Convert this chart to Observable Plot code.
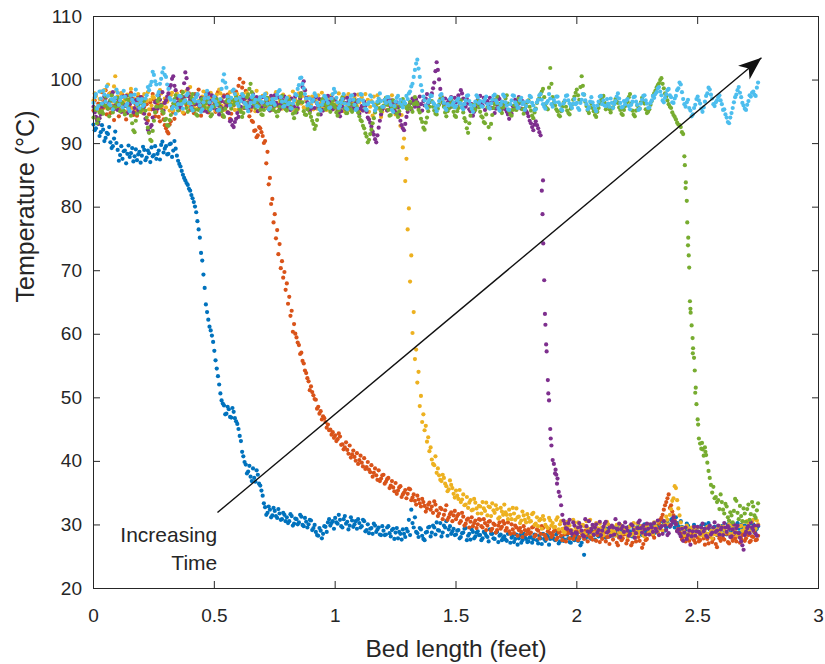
<!DOCTYPE html>
<html>
<head>
<meta charset="utf-8">
<script src="https://cdn.jsdelivr.net/npm/d3@7"></script>
<script src="https://cdn.jsdelivr.net/npm/@observablehq/plot@0.6"></script>
<style>
  html, body { margin: 0; padding: 0; background: #fff; }
  #chart svg { display: block; }
</style>
</head>
<body>
<div id="chart"></div>
<script>
// ---------- DATA ----------
// Readings "A" at 0.00, 0.01, ... 2.75 ft; readings "B" at 0.005, 0.015, ... 2.745 ft
const sampleStep = 0.01;
const offsetB = 0.005;

// Series 1 (earliest time)
const temps1 = [
  93.0, 92.4, 93.5, 91.8, 92.2, 90.9, 91.5, 90.2, 89.6, 91.9,
  89.0, 88.2, 87.6, 88.9, 88.4, 87.9, 89.3, 88.0, 87.4, 88.7,
  88.1, 89.0, 87.8, 88.5, 89.4, 88.2, 87.6, 88.9, 89.8, 88.6,
  89.6, 88.4, 90.0, 88.9, 89.2, 87.3, 86.4, 85.1, 84.2, 83.5,
  82.6, 81.4, 80.1, 77.8, 75.2, 71.6, 67.3, 63.5, 61.2, 59.8,
  57.4, 54.6, 52.1, 49.6, 48.8, 47.5, 48.2, 46.9, 47.8, 46.3,
  45.1, 43.2, 40.8, 39.5, 38.4, 37.6, 38.9, 36.8, 37.9, 36.2,
  34.6, 32.8, 31.9, 32.4, 31.5, 32.2, 31.1, 31.8, 30.9, 31.6,
  31.2, 30.6, 31.4, 30.2, 30.9, 30.4, 31.3, 29.8, 30.5, 30.1,
  30.7, 29.5, 28.9, 28.3, 29.1, 28.6, 29.7, 30.4, 29.9, 30.6,
  31.1, 30.2, 30.8, 29.6, 31.4, 30.5, 29.9, 30.7, 30.1, 29.4,
  30.3, 29.8, 30.6, 29.2, 28.7, 29.5, 30.2, 28.9, 29.6, 28.4,
  29.1, 28.5, 29.8, 28.2, 29.4, 28.8, 27.9, 28.6, 29.3, 28.1,
  29.0, 28.4, 30.3, 31.2, 28.7, 29.5, 28.3, 27.6, 28.9, 29.7,
  28.8, 29.6, 30.4, 29.1, 28.2, 29.9, 30.6, 29.3, 28.6, 29.4,
  28.5, 29.2, 28.1, 28.8, 29.5, 28.3, 27.7, 28.9, 28.2, 29.0,
  28.4, 27.9, 28.7, 28.1, 29.3, 28.6, 27.8, 28.9, 28.3, 27.6,
  28.2, 27.5, 28.8, 28.0, 27.3, 28.5, 27.9, 27.2, 28.6, 27.8,
  27.4, 28.1, 27.7, 28.4, 27.1, 27.9, 28.6, 27.5, 28.2, 27.8,
  28.3, 27.6, 28.9, 27.4, 28.1, 27.7, 28.5, 27.3, 28.0, 27.6,
  28.4, 27.9, 27.2, 25.3, 28.1, 28.7, 27.8, 28.4, 29.1, 28.2,
  28.6, 29.2, 28.0, 28.8, 29.4, 28.3, 28.9, 29.5, 28.1, 28.7,
  29.3, 28.5, 29.0, 28.2, 29.6, 28.8, 29.2, 28.4, 30.1, 29.5,
  28.9, 29.7, 30.2, 29.3, 30.5, 29.8, 30.3, 29.6, 30.0, 30.8,
  30.4, 31.2, 29.8, 30.6, 28.4, 29.3, 29.9, 28.7, 29.5, 28.9,
  29.6, 28.8, 29.4, 30.1, 28.6, 29.3, 28.9, 29.7, 28.4, 29.2,
  29.8, 29.1, 28.5, 29.6, 30.2, 29.0, 28.7, 29.4, 30.0, 29.3,
  29.7, 28.9, 29.5, 30.1, 29.2, 29.8
];
const temps1B = [
  92.1, 93.8, 91.2, 92.9, 90.4, 91.7, 92.6, 89.3, 90.8, 90.1,
  87.3, 89.6, 88.8, 86.9, 89.7, 88.5, 87.2, 89.1, 88.3, 87.0,
  89.5, 87.4, 88.9, 87.1, 88.0, 89.6, 88.4, 87.5, 90.3, 89.2,
  88.3, 89.9, 87.9, 90.4, 88.1, 86.8, 85.7, 84.6, 83.8, 82.9,
  81.9, 80.8, 79.2, 76.5, 72.8, 69.4, 64.7, 62.3, 60.6, 58.8,
  55.9, 53.4, 50.7, 49.1, 47.4, 48.6, 47.0, 48.4, 46.8, 45.9,
  44.0, 41.5, 39.9, 38.1, 39.3, 36.9, 37.4, 38.6, 36.5, 35.4,
  33.4, 31.6, 32.9, 31.2, 32.7, 31.4, 32.5, 30.8, 31.9, 30.6,
  30.3, 31.7, 29.9, 31.0, 30.1, 31.6, 30.0, 31.1, 29.6, 30.8,
  29.2, 30.0, 28.4, 29.5, 27.9, 29.8, 28.9, 30.9, 30.3, 29.4,
  30.4, 31.6, 29.8, 30.9, 30.2, 29.3, 31.2, 29.7, 30.6, 30.9,
  29.6, 30.8, 29.0, 30.1, 29.4, 28.6, 29.9, 29.3, 28.5, 29.8,
  28.4, 29.6, 28.7, 29.2, 27.8, 29.5, 28.9, 27.7, 28.6, 29.4,
  30.8, 32.4, 29.6, 28.9, 28.1, 29.3, 27.8, 28.8, 29.6, 28.2,
  29.9, 28.5, 29.2, 30.3, 28.8, 29.6, 28.3, 29.8, 29.0, 28.4,
  29.1, 27.9, 28.7, 29.4, 27.6, 28.6, 29.3, 27.9, 28.8, 28.4,
  27.6, 28.9, 28.3, 27.4, 28.6, 27.9, 28.8, 27.3, 28.5, 28.0,
  27.7, 28.6, 27.2, 28.3, 27.8, 26.9, 28.4, 27.6, 28.1, 27.3,
  28.0, 27.2, 28.5, 27.6, 28.3, 27.0, 27.8, 28.4, 26.9, 28.6,
  27.8, 28.5, 27.1, 28.2, 27.5, 28.7, 27.9, 27.2, 28.4, 27.9,
  27.5, 26.8, 28.3, 27.9, 28.6, 28.0, 29.0, 27.7, 28.5, 29.3,
  28.0, 28.9, 29.4, 28.2, 28.7, 29.6, 28.5, 28.1, 29.2, 28.8,
  28.7, 29.7, 28.3, 29.4, 28.9, 29.9, 28.6, 29.5, 29.0, 28.8,
  29.5, 30.1, 28.8, 29.9, 29.4, 30.6, 29.1, 30.4, 29.7, 31.0,
  29.6, 30.3, 28.9, 29.7, 29.1, 30.2, 28.6, 29.4, 30.0, 29.2,
  28.9, 29.9, 28.5, 29.5, 30.3, 28.8, 29.6, 29.0, 29.8, 28.7,
  29.4, 28.6, 30.1, 29.2, 28.9, 29.7, 30.3, 28.8, 29.5, 29.9,
  29.1, 30.2, 29.6, 28.8, 29.4
];
const front1 = [];

// Series 2
const temps2 = [
  95.2, 94.1, 96.3, 97.0, 95.6, 98.4, 96.1, 94.8, 95.9, 97.2,
  96.4, 95.3, 97.6, 96.0, 94.9, 95.7, 96.8, 95.1, 94.4, 96.5,
  97.3, 95.8, 96.2, 94.6, 95.4, 96.9, 95.0, 94.2, 95.6, 93.8,
  92.4, 91.6, 93.5, 94.9, 96.3, 97.1, 95.8, 96.6, 97.4, 96.0,
  95.3, 96.7, 97.8, 96.2, 95.5, 96.9, 95.2, 97.5, 96.1, 95.7,
  97.0, 96.4, 95.1, 96.8, 97.6, 95.9, 96.3, 94.7, 96.0, 98.2,
  99.1, 97.4, 99.6, 98.3, 96.5, 95.2, 93.4, 92.1, 91.3, 92.4,
  91.2, 90.4, 88.7, 84.6, 81.3, 78.9, 76.4, 74.2, 71.5, 69.8,
  68.0, 65.9, 63.7, 61.6, 59.5, 58.3, 57.1, 55.4, 53.9, 52.6,
  51.8, 50.4, 49.7, 48.6, 47.9, 47.1, 46.2, 45.8, 45.0, 44.6,
  44.1, 43.5, 43.9, 42.7, 42.2, 41.8, 42.5, 41.1, 40.7, 41.3,
  40.2, 39.8, 40.5, 39.1, 38.7, 39.4, 38.2, 37.8, 38.6, 37.3,
  37.9, 36.8, 37.4, 36.2, 35.9, 36.6, 35.4, 36.1, 34.8, 35.5,
  34.9, 35.6, 34.3, 33.8, 34.6, 33.4, 34.1, 33.0, 32.6, 33.5,
  32.9, 33.7, 32.3, 31.8, 32.5, 31.6, 33.1, 31.2, 32.0, 31.5,
  30.9, 31.7, 30.6, 31.3, 30.2, 31.0, 30.5, 29.8, 30.7, 30.1,
  30.8, 29.6, 30.3, 29.9, 30.6, 29.4, 30.0, 29.2, 30.4, 29.7,
  30.2, 29.5, 29.0, 30.1, 28.7, 29.6, 29.2, 28.9, 29.8, 28.5,
  29.3, 28.8, 29.7, 28.4, 29.1, 28.6, 29.5, 28.2, 29.0, 28.7,
  28.4, 29.2, 28.0, 28.9, 27.6, 28.5, 29.1, 27.9, 28.6, 28.3,
  29.0, 28.1, 28.7, 27.8, 28.4, 29.3, 28.2, 28.8, 27.5, 28.6,
  28.9, 28.3, 27.4, 28.1, 28.7, 27.7, 28.5, 26.8, 28.2, 27.9,
  28.6, 27.6, 28.4, 27.2, 28.0, 28.8, 27.5, 26.4, 28.3, 27.8,
  28.5, 29.1, 28.0, 29.4, 30.2, 31.1, 32.4, 33.6, 34.8, 33.1,
  31.5, 30.2, 29.4, 28.6, 28.1, 27.4, 28.3, 27.9, 28.5, 27.2,
  28.0, 27.6, 28.4, 26.9, 27.8, 28.2, 27.3, 28.7, 26.5, 27.9,
  28.3, 27.7, 28.6, 27.1, 28.0, 28.5, 27.4, 28.2, 27.8, 28.6,
  27.9, 28.4, 27.5, 28.1, 27.6, 28.3
];
const temps2B = [
  96.8, 93.9, 95.4, 98.1, 96.7, 94.6, 97.8, 95.5, 93.7, 96.2,
  94.3, 97.9, 95.0, 93.8, 96.9, 98.0, 94.5, 96.2, 97.4, 95.1,
  94.8, 97.0, 93.6, 96.5, 97.8, 94.3, 96.1, 93.5, 94.7, 92.9,
  91.9, 93.0, 95.8, 93.9, 97.5, 95.3, 98.2, 94.7, 96.0, 97.9,
  96.6, 94.8, 96.3, 98.5, 94.4, 95.8, 98.0, 94.9, 97.3, 96.8,
  95.0, 98.1, 96.9, 94.3, 95.6, 97.7, 93.9, 96.8, 97.9, 96.6,
  100.2, 98.8, 97.0, 96.1, 94.3, 93.6, 92.0, 91.0, 92.6, 91.8,
  90.1, 86.9, 83.6, 80.5, 77.6, 75.1, 72.6, 70.4, 68.9, 67.0,
  64.8, 62.9, 60.4, 60.1, 58.7, 56.9, 55.8, 54.3, 53.1, 51.2,
  50.9, 49.8, 48.3, 47.5, 46.6, 46.8, 45.3, 44.9, 44.2, 43.7,
  43.2, 44.4, 42.6, 41.9, 43.0, 41.2, 40.6, 41.7, 40.1, 39.6,
  40.9, 39.2, 38.8, 39.9, 38.3, 37.6, 38.9, 37.1, 36.9, 37.8,
  36.5, 37.2, 35.8, 36.9, 35.3, 34.9, 35.9, 34.4, 35.1, 34.2,
  35.7, 33.9, 34.8, 33.2, 34.0, 32.9, 33.6, 32.1, 33.2, 32.4,
  31.9, 33.2, 31.4, 32.7, 30.9, 32.3, 30.8, 31.7, 30.6, 32.2,
  31.4, 30.3, 31.9, 29.9, 30.8, 29.6, 31.2, 30.3, 29.5, 30.9,
  29.8, 30.9, 29.2, 30.5, 29.1, 30.2, 28.8, 29.9, 29.4, 30.6,
  29.1, 30.4, 28.6, 29.3, 29.9, 28.3, 29.5, 28.1, 29.2, 29.0,
  28.6, 29.6, 28.2, 29.3, 27.9, 29.8, 28.5, 27.8, 29.4, 28.1,
  29.0, 27.7, 28.8, 28.3, 29.4, 27.4, 28.7, 29.2, 27.8, 28.9,
  27.6, 28.9, 28.3, 29.1, 27.4, 28.1, 27.7, 29.0, 28.4, 27.3,
  27.8, 28.8, 28.1, 27.0, 28.4, 28.9, 27.2, 28.0, 27.6, 28.5,
  27.1, 28.3, 26.8, 28.7, 27.4, 28.1, 28.9, 27.0, 27.6, 28.7,
  29.2, 28.4, 29.7, 28.8, 30.8, 31.6, 33.1, 34.2, 32.7, 32.1,
  30.7, 29.1, 28.8, 27.7, 28.9, 28.0, 27.5, 28.6, 27.6, 28.8,
  27.4, 28.5, 27.9, 28.3, 27.1, 28.6, 27.8, 27.0, 28.4, 27.5,
  27.9, 28.8, 27.3, 28.4, 27.5, 27.9, 28.7, 27.2, 28.4, 27.5,
  28.6, 27.3, 28.2, 28.9, 27.7
];
const front2 = [];

// Series 3
const temps3 = [
  96.8, 97.5, 95.9, 98.2, 96.4, 97.1, 99.3, 98.0, 96.6, 100.6,
  97.4, 96.1, 95.3, 96.9, 97.7, 96.2, 95.6, 97.0, 96.5, 95.1,
  96.3, 97.8, 96.7, 95.4, 96.0, 97.2, 95.8, 96.6, 97.9, 96.4,
  95.7, 96.9, 97.6, 95.2, 96.1, 97.3, 96.0, 94.9, 96.7, 97.5,
  98.9, 97.1, 96.2, 95.5, 96.8, 97.4, 95.9, 96.3, 97.0, 95.6,
  96.5, 97.7, 98.5, 96.0, 95.3, 96.6, 97.2, 95.8, 96.4, 97.1,
  95.4, 96.9, 97.8, 96.2, 95.7, 96.5, 97.3, 95.1, 96.0, 96.8,
  97.5, 96.3, 95.6, 96.9, 97.2, 95.8, 96.4, 97.0, 95.5, 96.1,
  96.7, 97.4, 96.0, 95.2, 96.6, 97.9, 96.3, 95.7, 96.8, 97.3,
  96.1, 95.4, 96.9, 97.6, 96.2, 95.8, 96.5, 97.1, 95.6, 96.3,
  97.0, 96.4, 95.7, 96.8, 97.5, 96.1, 95.3, 96.6, 97.2, 95.9,
  96.5, 97.3, 95.8, 96.2, 95.0, 96.7, 97.4, 96.0, 95.5, 94.2,
  95.6, 96.8, 97.1, 95.4, 96.3, 94.6, 95.9, 92.8, 89.4, 84.1,
  76.5, 68.3, 60.2, 56.1, 52.4, 48.7, 46.2, 44.9, 43.1, 41.6,
  40.3, 39.4, 38.2, 37.8, 36.9, 37.4, 36.1, 35.6, 36.3, 34.9,
  35.4, 34.1, 33.6, 34.8, 33.2, 32.7, 33.9, 32.4, 33.5, 31.8,
  32.9, 33.6, 32.2, 31.5, 32.8, 33.4, 31.9, 32.5, 31.2, 32.1,
  33.2, 31.6, 32.4, 30.9, 31.8, 32.6, 31.3, 30.7, 31.5, 30.4,
  31.1, 30.6, 31.9, 30.2, 29.8, 30.9, 31.4, 30.0, 29.5, 30.7,
  30.3, 29.7, 31.2, 30.1, 29.4, 28.8, 30.5, 29.9, 29.1, 30.4,
  29.6, 30.2, 28.9, 29.8, 30.6, 29.3, 28.6, 29.9, 30.3, 29.0,
  29.5, 28.4, 29.2, 30.1, 28.8, 29.7, 28.3, 29.4, 30.0, 28.7,
  29.3, 28.1, 29.8, 28.6, 29.5, 30.2, 28.9, 29.1, 28.2, 29.7,
  28.8, 29.6, 30.4, 29.0, 28.5, 29.9, 30.6, 31.3, 30.1, 32.5,
  34.2, 35.8, 32.6, 30.4, 29.2, 28.6, 29.5, 28.0, 29.3, 28.7,
  29.6, 28.3, 29.0, 28.8, 29.7, 28.4, 27.9, 29.2, 28.6, 29.8,
  28.5, 29.3, 28.9, 30.1, 29.4, 28.7, 29.6, 28.2, 29.9, 30.5,
  29.2, 30.3, 29.6, 30.8, 29.4, 30.1
];
const temps3B = [
  97.9, 95.3, 97.0, 96.1, 98.4, 95.6, 97.7, 96.9, 99.0, 98.3,
  95.8, 97.9, 96.6, 94.9, 96.4, 98.6, 97.1, 95.4, 97.8, 96.5,
  95.0, 96.8, 98.1, 96.9, 97.4, 95.2, 97.6, 98.4, 95.9, 97.1,
  96.6, 95.2, 98.0, 96.4, 97.9, 95.5, 97.1, 96.6, 98.3, 95.9,
  97.5, 95.8, 97.6, 96.7, 95.1, 98.2, 96.8, 95.4, 98.0, 96.9,
  95.2, 96.6, 97.9, 97.3, 96.4, 95.0, 98.1, 96.9, 95.3, 97.8,
  96.7, 95.5, 96.3, 98.0, 97.1, 95.6, 96.5, 98.3, 97.2, 95.4,
  96.0, 97.9, 97.0, 95.3, 96.6, 98.1, 95.9, 96.3, 97.7, 96.8,
  95.6, 96.3, 98.2, 96.9, 95.4, 96.7, 97.5, 98.4, 95.6, 96.2,
  97.4, 96.7, 95.5, 96.3, 98.0, 97.1, 95.3, 96.0, 97.6, 95.5,
  96.2, 97.9, 96.8, 95.1, 96.3, 97.8, 96.7, 95.4, 96.0, 97.7,
  95.2, 96.0, 97.8, 96.9, 95.8, 94.4, 96.1, 97.6, 96.8, 95.0,
  96.9, 95.3, 96.0, 97.6, 95.2, 96.4, 94.5, 94.5, 90.8, 87.6,
  79.8, 72.4, 63.5, 57.6, 54.1, 50.3, 47.4, 45.6, 43.8, 42.2,
  39.6, 40.8, 38.9, 37.1, 37.9, 36.5, 35.3, 37.0, 35.8, 34.3,
  34.6, 35.5, 34.0, 33.1, 34.4, 33.5, 32.3, 34.1, 32.6, 33.0,
  31.8, 32.6, 33.5, 32.9, 31.4, 32.3, 33.1, 31.0, 32.7, 31.6,
  32.0, 30.9, 31.6, 32.7, 30.8, 31.2, 30.3, 32.1, 30.8, 31.7,
  30.5, 31.7, 30.0, 31.2, 30.7, 29.4, 30.8, 29.7, 31.1, 29.9,
  29.6, 30.8, 29.3, 30.6, 28.9, 29.8, 30.2, 29.2, 30.8, 29.5,
  30.4, 29.1, 30.0, 28.7, 29.4, 30.8, 29.6, 28.8, 29.5, 30.2,
  28.9, 29.8, 30.5, 28.6, 29.3, 28.9, 30.0, 28.8, 29.6, 29.2,
  28.7, 29.6, 28.4, 30.3, 29.0, 28.6, 29.8, 28.4, 29.6, 30.1,
  29.3, 28.6, 29.8, 30.5, 29.3, 29.1, 30.2, 30.8, 31.6, 33.8,
  36.1, 33.9, 31.5, 29.6, 28.4, 29.9, 28.7, 29.6, 28.2, 29.4,
  28.9, 29.5, 28.3, 29.4, 28.6, 29.1, 28.6, 28.5, 29.5, 28.8,
  29.7, 28.8, 29.6, 28.6, 29.9, 29.2, 28.4, 29.8, 29.1, 29.6,
  30.6, 29.0, 30.5, 29.4, 30.7
];
const front3 = [];

// Series 4
const temps4 = [
  95.8, 94.2, 93.1, 94.6, 96.3, 97.2, 95.5, 96.8, 98.1, 96.0,
  95.3, 96.6, 97.4, 95.9, 94.8, 96.2, 97.0, 95.6, 96.9, 95.1,
  96.4, 94.7, 93.2, 91.8, 92.9, 95.4, 96.7, 97.5, 96.1, 95.2,
  96.8, 97.9, 99.2, 100.6, 98.4, 96.5, 95.7, 97.3, 101.2, 98.6,
  96.9, 95.4, 96.2, 97.7, 95.8, 96.5, 97.1, 95.0, 96.3, 97.6,
  96.1, 95.3, 94.6, 96.7, 97.4, 95.9, 94.8, 93.7, 92.6, 93.9,
  94.2, 95.8, 96.6, 97.2, 95.5, 96.9, 97.8, 96.0, 95.1, 96.4,
  97.3, 95.9, 96.5, 95.2, 96.8, 97.6, 96.1, 95.4, 96.9, 97.4,
  95.7, 96.3, 97.1, 95.8, 94.9, 96.5, 97.9, 99.8, 97.2, 96.0,
  95.5, 96.8, 97.3, 95.9, 94.6, 95.2, 96.7, 97.5, 96.2, 95.4,
  96.9, 95.1, 94.3, 95.8, 96.4, 97.2, 95.6, 96.1, 97.7, 95.3,
  94.7, 95.9, 96.6, 95.0, 93.8, 92.7, 91.4, 90.2, 92.5, 94.6,
  95.8, 96.4, 97.0, 95.5, 96.2, 94.9, 95.7, 93.6, 92.4, 93.1,
  95.0, 96.3, 97.1, 95.8, 96.5, 97.4, 95.2, 96.0, 97.8, 96.6,
  97.9, 99.6, 102.8, 100.1, 97.4, 96.2, 95.5, 96.8, 97.3, 95.9,
  96.5, 97.6, 98.4, 97.1, 95.8, 96.3, 95.1, 94.4, 95.7, 96.9,
  97.5, 96.0, 95.3, 96.7, 97.2, 95.6, 94.8, 96.1, 97.0, 95.4,
  96.2, 95.0, 93.9, 94.7, 95.8, 96.6, 97.3, 95.5, 96.4, 95.1,
  94.3, 93.2, 92.1, 93.5, 92.4, 91.3, 84.2, 61.5, 52.8, 45.1,
  40.2, 38.1, 37.3, 34.5, 31.6, 30.2, 29.4, 30.8, 28.6, 29.9,
  28.7, 30.3, 29.1, 28.2, 29.8, 30.6, 29.4, 28.5, 30.1, 29.2,
  28.4, 29.7, 30.5, 29.0, 28.3, 29.6, 30.9, 29.3, 28.1, 29.8,
  30.4, 29.1, 28.6, 29.9, 28.0, 29.5, 30.7, 28.8, 29.3, 30.2,
  28.5, 29.6, 30.3, 29.0, 28.4, 29.8, 30.6, 29.2, 28.7, 30.0,
  31.2, 30.1, 29.3, 28.2, 27.5, 29.6, 28.4, 26.9, 29.0, 28.3,
  29.7, 28.6, 30.2, 29.4, 28.1, 29.9, 28.8, 30.4, 29.1, 28.5,
  29.6, 30.3, 28.9, 29.4, 28.2, 30.1, 29.5, 28.7, 27.4, 26.1,
  28.9, 29.8, 30.4, 29.2, 28.6, 29.9
];
const temps4B = [
  94.9, 93.6, 94.0, 95.8, 97.4, 95.9, 96.4, 97.7, 95.4, 97.1,
  96.9, 95.0, 96.1, 97.5, 95.5, 97.6, 94.9, 96.8, 95.3, 97.3,
  95.6, 93.9, 92.2, 92.6, 94.1, 96.5, 95.5, 96.9, 98.1, 96.4,
  97.4, 98.8, 100.2, 99.1, 97.2, 95.9, 96.9, 99.5, 100.3, 97.4,
  95.8, 96.9, 97.6, 96.1, 97.2, 95.2, 96.4, 97.9, 96.7, 95.6,
  97.2, 96.0, 95.8, 95.5, 96.5, 94.9, 93.5, 92.9, 93.4, 94.8,
  95.3, 97.1, 95.6, 96.4, 97.1, 95.8, 96.6, 97.3, 96.6, 95.7,
  96.4, 97.0, 95.4, 97.5, 95.9, 96.4, 97.3, 96.2, 95.8, 96.5,
  96.8, 95.3, 96.0, 97.4, 95.6, 97.1, 98.9, 98.4, 96.5, 95.1,
  96.9, 95.6, 96.3, 97.0, 95.3, 96.1, 95.8, 96.6, 97.2, 96.0,
  95.7, 94.8, 95.1, 97.1, 95.4, 96.6, 96.8, 95.5, 96.4, 96.8,
  95.5, 95.2, 95.9, 94.1, 93.3, 91.9, 90.7, 91.3, 93.6, 95.4,
  96.9, 95.2, 96.1, 96.8, 95.3, 96.5, 94.6, 92.9, 92.1, 94.2,
  95.9, 95.4, 96.6, 97.0, 95.7, 96.2, 96.7, 97.1, 96.3, 97.5,
  98.7, 101.4, 101.6, 98.6, 96.5, 97.1, 96.4, 95.7, 96.5, 97.2,
  95.8, 96.9, 97.9, 96.2, 97.0, 95.4, 96.2, 95.0, 96.5, 96.1,
  96.4, 97.2, 96.5, 95.9, 96.4, 96.8, 95.5, 97.3, 96.2, 96.5,
  95.4, 94.6, 95.2, 95.9, 96.9, 95.8, 96.4, 96.7, 95.3, 94.8,
  93.6, 92.6, 93.0, 92.9, 91.8, 82.6, 68.5, 57.3, 49.6, 42.5,
  39.6, 37.9, 35.2, 33.1, 30.7, 29.5, 30.3, 29.1, 30.4, 28.8,
  29.6, 29.7, 28.4, 30.9, 29.0, 28.9, 30.0, 29.6, 28.8, 30.5,
  29.1, 30.2, 28.8, 29.6, 29.9, 28.5, 29.4, 30.2, 29.4, 28.9,
  29.6, 28.3, 30.1, 29.2, 28.7, 30.4, 29.5, 29.9, 28.5, 29.4,
  30.1, 28.9, 29.4, 30.7, 29.5, 28.6, 29.9, 28.4, 29.8, 30.6,
  30.5, 29.0, 28.6, 29.4, 28.8, 27.8, 29.1, 28.2, 29.7, 29.0,
  28.9, 29.6, 29.0, 28.3, 29.5, 28.5, 29.6, 28.9, 29.9, 29.3,
  28.4, 29.6, 29.8, 28.1, 29.3, 28.8, 29.9, 28.0, 26.8, 28.4,
  29.5, 28.7, 29.6, 29.9, 28.3
];
const front4 = [
  [1.858, 78.9], [1.861, 74.3], [1.868, 63.2], [1.873, 58.4],
  [1.882, 50.7], [1.892, 43.6], [1.912, 38.7], [1.918, 36.5]
];

// Series 5
const temps5 = [
  94.1, 95.3, 93.8, 96.2, 94.7, 97.4, 95.5, 96.8, 94.9, 95.7,
  97.2, 95.1, 96.4, 94.6, 95.9, 97.5, 93.2, 91.8, 94.7, 96.3,
  95.4, 96.8, 94.1, 91.7, 90.4, 93.6, 95.8, 97.1, 96.0, 94.8,
  93.9, 92.8, 94.5, 96.3, 97.6, 95.2, 96.7, 98.1, 96.4, 95.0,
  96.5, 97.8, 95.3, 94.4, 96.0, 97.1, 95.7, 96.9, 95.2, 94.6,
  95.8, 97.0, 96.3, 95.1, 94.2, 96.6, 97.3, 95.5, 96.1, 97.4,
  96.2, 95.0, 94.8, 96.4, 97.7, 99.4, 97.0, 95.6, 96.8, 95.3,
  94.5, 96.0, 97.2, 95.4, 96.7, 95.9, 94.3, 95.8, 97.5, 96.1,
  95.2, 96.9, 95.6, 94.0, 95.3, 96.6, 97.9, 95.1, 94.5, 95.8,
  94.2, 93.1, 92.8, 94.6, 96.0, 97.1, 95.4, 96.3, 95.0, 96.8,
  95.7, 94.4, 96.1, 97.3, 95.5, 94.8, 96.2, 95.0, 96.9, 95.6,
  94.3, 93.5, 92.4, 91.1, 90.6, 92.2, 94.0, 95.7, 96.4, 95.1,
  96.0, 97.2, 95.3, 94.5, 96.8, 95.7, 94.2, 95.9, 97.0, 96.1,
  95.4, 96.6, 95.0, 97.3, 96.2, 94.9, 93.4, 92.2, 94.1, 95.8,
  96.7, 95.2, 94.6, 96.1, 97.4, 95.8, 94.3, 95.5, 96.9, 95.0,
  94.2, 95.6, 96.8, 94.9, 93.5, 91.7, 94.4, 96.1, 95.3, 96.7,
  95.0, 94.1, 93.2, 95.7, 90.8, 94.5, 96.2, 97.4, 95.6, 94.8,
  96.3, 97.6, 95.1, 94.4, 96.0, 95.3, 97.1, 96.5, 94.7, 95.9,
  96.8, 95.2, 94.0, 95.5, 96.9, 97.8, 98.6, 96.2, 95.4, 101.9,
  97.3, 96.0, 95.1, 94.3, 95.8, 96.7, 95.2, 94.6, 96.1, 97.4,
  98.5, 96.9, 100.6, 97.7, 95.9, 94.8, 96.3, 95.1, 94.2, 95.6,
  96.8, 97.5, 95.4, 96.2, 94.9, 95.7, 97.0, 96.4, 95.3, 94.5,
  95.9, 96.6, 97.8, 95.2, 94.3, 96.0, 95.5, 97.2, 96.3, 94.8,
  95.4, 96.7, 97.9, 98.8, 99.5, 100.3, 98.7, 97.4, 96.2, 95.6,
  94.5, 93.8, 93.0, 92.6, 91.5, 83.0, 74.0, 64.0, 57.0, 50.8,
  46.6, 42.8, 41.9, 42.2, 39.8, 37.4, 35.1, 34.2, 33.6, 32.5,
  33.6, 31.8, 32.9, 30.7, 31.5, 32.2, 33.8, 30.9, 31.4, 32.6,
  30.5, 33.2, 31.7, 32.9, 31.1, 33.4
];
const temps5B = [
  95.6, 93.2, 94.9, 95.1, 96.0, 95.9, 94.3, 97.6, 95.8, 96.4,
  95.9, 96.5, 95.2, 97.0, 96.8, 94.4, 92.1, 93.6, 95.9, 95.0,
  96.3, 95.2, 92.5, 90.6, 92.0, 94.9, 96.7, 95.8, 95.1, 93.7,
  92.9, 93.7, 95.6, 97.0, 96.1, 96.2, 97.5, 96.8, 95.6, 96.4,
  97.2, 96.4, 94.6, 95.3, 96.8, 96.2, 96.4, 95.6, 94.3, 95.9,
  96.5, 96.2, 95.6, 94.5, 95.5, 97.0, 96.3, 96.9, 96.6, 96.8,
  95.4, 94.2, 95.7, 97.3, 98.6, 98.1, 96.2, 96.3, 95.9, 94.6,
  95.3, 96.8, 96.1, 96.2, 95.3, 95.0, 95.1, 96.7, 96.6, 95.4,
  96.3, 95.9, 94.7, 94.9, 96.2, 97.4, 96.5, 94.6, 95.4, 94.8,
  93.6, 92.3, 93.7, 95.5, 96.8, 96.2, 95.9, 95.5, 96.2, 96.1,
  94.9, 95.3, 96.8, 96.4, 94.8, 95.6, 95.4, 96.1, 96.0, 94.9,
  93.7, 92.8, 91.6, 90.2, 91.5, 93.2, 94.9, 96.4, 95.6, 95.8,
  96.7, 96.1, 94.4, 95.6, 96.0, 94.7, 95.1, 96.6, 96.3, 95.6,
  96.0, 95.6, 96.2, 96.5, 95.3, 93.9, 92.5, 93.3, 95.1, 96.6,
  95.8, 94.7, 95.5, 97.0, 96.5, 94.9, 95.1, 96.3, 95.8, 94.4,
  95.1, 96.3, 95.7, 94.0, 92.4, 93.2, 95.4, 95.6, 96.2, 95.7,
  94.3, 93.4, 94.6, 92.6, 93.1, 95.6, 96.9, 96.3, 95.1, 95.7,
  97.1, 96.3, 94.6, 95.3, 95.4, 96.4, 96.8, 95.4, 95.5, 96.5,
  95.8, 94.4, 94.9, 96.4, 97.2, 98.2, 97.3, 95.6, 98.8, 99.4,
  96.4, 95.4, 94.5, 95.1, 96.4, 95.8, 94.8, 95.5, 96.9, 98.0,
  97.6, 98.9, 99.1, 96.6, 95.2, 95.7, 95.6, 94.5, 95.0, 96.3,
  97.2, 96.4, 95.9, 95.4, 95.5, 96.5, 96.6, 95.7, 94.7, 95.3,
  96.4, 97.3, 96.3, 94.6, 95.2, 95.6, 96.5, 96.6, 95.4, 95.0,
  96.1, 97.5, 98.3, 99.2, 100.0, 99.4, 97.9, 96.8, 95.8, 94.9,
  94.2, 93.3, 92.9, 91.8, 88.0, 81.0, 70.5, 61.4, 56.3, 49.0,
  43.6, 42.0, 40.9, 41.0, 38.5, 36.3, 36.0, 34.4, 33.9, 34.8,
  32.4, 33.3, 31.2, 32.0, 30.4, 34.1, 31.9, 33.0, 30.6, 31.8,
  32.5, 30.8, 33.6, 31.5, 32.3
];
const front5 = [
  [2.447, 86.6], [2.451, 83.9], [2.457, 77.6], [2.461, 75.2], [2.463, 72.4],
  [2.468, 65.2], [2.471, 63.4], [2.479, 59.4], [2.481, 57.8], [2.488, 54.3],
  [2.492, 51.6], [2.502, 45.8], [2.518, 42.9], [2.532, 41.5]
];

// Series 6 (latest time)
const temps6 = [
  96.4, 97.8, 95.9, 97.1, 98.3, 96.6, 97.5, 96.0, 95.4, 97.2,
  98.0, 96.8, 95.7, 97.4, 96.3, 95.1, 96.9, 97.7, 96.2, 95.6,
  97.0, 96.1, 97.6, 98.4, 99.7, 100.8, 99.3, 98.1, 100.2, 101.9,
  100.5, 98.6, 96.9, 95.8, 94.7, 96.2, 97.4, 95.5, 96.8, 97.9,
  96.3, 95.2, 96.7, 97.8, 96.0, 95.4, 97.1, 98.3, 96.5, 95.8,
  97.4, 96.1, 95.3, 98.6, 100.9, 98.8, 96.7, 97.2, 98.5, 97.0,
  95.9, 96.7, 97.5, 96.2, 95.1, 96.4, 97.6, 96.9, 95.8, 97.3,
  96.5, 97.8, 96.3, 95.6, 97.0, 96.1, 97.7, 98.4, 96.6, 95.9,
  97.2, 96.4, 95.5, 96.8, 97.6, 99.2, 100.4, 98.7, 97.1, 96.3,
  95.8, 96.9, 97.5, 96.0, 95.2, 96.6, 97.3, 96.4, 95.7, 97.8,
  98.1, 96.5, 95.9, 97.0, 96.3, 95.4, 96.8, 97.6, 96.1, 95.5,
  96.9, 97.7, 96.2, 95.3, 96.5, 97.4, 96.0, 95.6, 97.1, 96.7,
  95.8, 96.4, 97.3, 96.1, 95.0, 96.6, 97.5, 96.9, 95.7, 96.3,
  97.0, 98.2, 99.4, 101.6, 103.2, 100.5, 98.3, 96.8, 95.6, 96.9,
  97.5, 96.2, 95.1, 96.7, 97.8, 96.4, 95.3, 96.0, 97.2, 96.5,
  95.9, 97.1, 96.3, 95.4, 96.8, 97.6, 96.1, 95.0, 96.6, 97.3,
  96.7, 95.8, 97.0, 96.2, 95.5, 96.9, 97.7, 96.4, 95.2, 96.6,
  97.4, 96.0, 95.3, 96.8, 97.5, 96.1, 95.7, 97.2, 96.5, 95.9,
  96.6, 97.3, 96.0, 95.4, 96.9, 97.8, 96.2, 95.5, 96.7, 97.1,
  95.8, 96.5, 97.4, 96.1, 95.2, 96.8, 97.6, 96.3, 95.6, 97.0,
  96.4, 95.3, 96.9, 97.7, 96.2, 95.7, 97.3, 96.0, 95.1, 96.6,
  97.5, 96.8, 95.9, 96.3, 97.1, 95.6, 96.7, 97.9, 96.4, 95.8,
  96.2, 97.0, 95.4, 96.6, 97.4, 96.1, 95.5, 96.9, 97.6, 96.3,
  95.7, 96.8, 97.2, 98.1, 98.9, 97.6, 96.5, 97.8, 98.6, 97.3,
  96.4, 97.5, 98.7, 99.3, 97.0, 95.8, 96.9, 95.2, 94.6, 96.1,
  97.4, 96.3, 95.0, 96.6, 97.9, 98.5, 97.1, 95.9, 96.8, 97.6,
  96.2, 95.4, 94.1, 93.2, 94.8, 96.5, 97.7, 98.9, 97.3, 96.0,
  95.3, 96.7, 97.4, 98.2, 97.5, 99.6
];
const temps6B = [
  97.3, 95.5, 98.2, 96.3, 97.7, 99.0, 96.2, 97.0, 96.7, 98.5,
  96.1, 97.3, 98.3, 96.0, 95.5, 97.6, 96.5, 98.5, 97.0, 96.5,
  95.9, 97.1, 98.9, 99.2, 101.3, 99.8, 97.6, 99.4, 101.2, 100.8,
  99.3, 97.2, 95.5, 96.7, 95.6, 97.5, 96.2, 96.6, 97.6, 96.4,
  95.6, 96.9, 97.3, 96.6, 95.0, 96.5, 97.7, 97.2, 95.4, 96.9,
  96.6, 95.2, 97.0, 99.9, 99.6, 97.4, 96.0, 98.3, 97.8, 96.3,
  97.2, 97.8, 96.4, 95.7, 95.9, 97.3, 96.5, 95.9, 96.9, 96.5,
  97.4, 97.0, 95.4, 96.4, 96.5, 97.1, 98.2, 97.3, 95.8, 96.7,
  96.2, 95.6, 96.3, 97.8, 98.6, 100.3, 99.4, 97.8, 96.0, 97.1,
  96.6, 97.9, 96.4, 95.4, 96.1, 97.5, 96.9, 95.6, 97.1, 98.6,
  97.2, 95.6, 96.5, 97.8, 95.6, 96.2, 97.5, 96.9, 95.3, 96.6,
  97.8, 96.8, 95.5, 96.2, 97.6, 96.5, 95.2, 96.6, 97.9, 95.8,
  96.9, 97.3, 96.6, 95.3, 95.9, 97.2, 96.4, 96.1, 96.6, 97.5,
  97.9, 99.0, 100.5, 102.6, 101.8, 99.2, 97.4, 96.0, 96.5, 97.6,
  96.5, 95.6, 96.0, 97.6, 97.0, 95.6, 96.2, 97.0, 96.1, 95.7,
  96.8, 96.4, 95.7, 96.2, 97.5, 96.7, 95.5, 96.0, 97.6, 96.4,
  95.9, 96.6, 97.4, 95.7, 96.3, 97.5, 96.8, 95.6, 96.1, 97.7,
  96.5, 95.4, 96.2, 97.6, 96.5, 95.6, 96.8, 96.2, 95.3, 96.7,
  97.5, 96.4, 95.3, 96.5, 97.6, 96.9, 95.8, 96.4, 97.8, 96.2,
  96.9, 97.4, 96.5, 95.4, 96.3, 97.5, 96.8, 95.9, 96.3, 96.2,
  95.6, 96.4, 97.8, 96.8, 95.4, 96.6, 96.5, 95.5, 96.0, 97.4,
  96.2, 96.0, 97.0, 95.8, 96.4, 96.2, 97.4, 97.1, 95.7, 96.7,
  96.8, 95.9, 96.1, 97.3, 96.6, 95.3, 96.3, 97.5, 96.8, 95.6,
  96.4, 97.5, 97.8, 98.7, 98.2, 96.8, 97.2, 98.4, 97.6, 96.5,
  97.1, 98.4, 99.6, 98.1, 96.2, 96.5, 95.6, 94.3, 95.6, 97.0,
  96.8, 95.5, 95.7, 97.5, 98.8, 97.7, 96.2, 96.5, 97.3, 96.8,
  95.3, 94.6, 93.4, 94.1, 95.6, 97.3, 98.4, 98.0, 96.4, 95.5,
  96.1, 97.6, 98.0, 97.7, 98.8
];
const front6 = [];

const seriesTempsA = [temps1, temps2, temps3, temps4, temps5, temps6];
const seriesTempsB = [temps1B, temps2B, temps3B, temps4B, temps5B, temps6B];
const seriesFronts = [front1, front2, front3, front4, front5, front6];
const seriesColors = ["#0072BD", "#D95319", "#EDB120", "#7E2F8E", "#77AC30", "#4DBEEE"];

// Axes
const xTicks = [0, 0.5, 1, 1.5, 2, 2.5, 3];
const xTickLabels = ["0", "0.5", "1", "1.5", "2", "2.5", "3"];
const yTicks = [20, 30, 40, 50, 60, 70, 80, 90, 100, 110];
const xDomain = [0, 3];
const yDomain = [20, 110];
const xLabel = "Bed length (feet)";
const yLabel = "Temperature (°C)";

// Annotation arrow (data units) and its note
const arrowFrom = {x: 0.513, y: 31.96};
const arrowTo = {x: 2.764, y: 103.5};
const noteText = "Increasing\nTime";
const notePos = {x: 0.512, y: 30.4};

// ---------- LAYOUT ----------
const W = 825, H = 664;
const mL = 93, mR = 7, mT = 16, mB = 76;

// ---------- BUILD ----------
const seriesData = seriesTempsA.map((tempsA, k) => {
  const pts = tempsA.map((t, i) => ({x: +(i * sampleStep).toFixed(3), y: t}));
  seriesTempsB[k].forEach((t, i) => pts.push({x: +(offsetB + i * sampleStep).toFixed(3), y: t}));
  for (const [x, y] of seriesFronts[k]) pts.push({x, y});
  return pts;
});

const kx = (W - mL - mR) / (xDomain[1] - xDomain[0]);
const ky = (H - mT - mB) / (yDomain[1] - yDomain[0]);
const arrowAngle = Math.atan2((arrowTo.x - arrowFrom.x) * kx, (arrowTo.y - arrowFrom.y) * ky) * 180 / Math.PI;

const arrowHead = {
  draw(context, size) {
    const L = Math.sqrt(size / Math.PI);
    const w = L * 0.39;
    context.moveTo(0, 0);
    context.lineTo(w, L);
    context.lineTo(0, L * 0.72);
    context.lineTo(-w, L);
    context.closePath();
  }
};

const tickLabelOf = new Map(xTicks.map((t, i) => [t, xTickLabels[i]]));
const ink = "#262626";

const chart = Plot.plot({
  width: W,
  height: H,
  marginLeft: mL,
  marginRight: mR,
  marginTop: mT,
  marginBottom: mB,
  style: {
    background: "#fff",
    fontFamily: "'Liberation Sans', Arial, Helvetica, sans-serif",
    color: ink
  },
  x: {domain: xDomain},
  y: {domain: yDomain},
  marks: [
    ...seriesData.map((pts, k) => Plot.dot(pts, {x: "x", y: "y", r: 2.1, fill: seriesColors[k], stroke: null})),
    Plot.frame({stroke: ink, strokeWidth: 1}),
    Plot.axisX(xTicks, {anchor: "bottom", tickSize: -7, tickPadding: 27, fontSize: 19, tickFormat: (d) => tickLabelOf.get(d), label: null}),
    Plot.axisX(xTicks, {anchor: "top", tickSize: -7, tickFormat: () => "", label: null}),
    Plot.axisY(yTicks, {anchor: "left", tickSize: -7, tickPadding: 18.5, fontSize: 19, tickFormat: (d) => String(d), label: null}),
    Plot.axisY(yTicks, {anchor: "right", tickSize: -7, tickFormat: () => "", label: null}),
    Plot.text([xLabel], {frameAnchor: "bottom", lineAnchor: "top", dy: 51, fontSize: 24.5, fill: ink}),
    Plot.text([yLabel], {frameAnchor: "left", rotate: -90, lineAnchor: "top", dx: -77, fontSize: 25, fill: ink}),
    Plot.link([{x1: arrowFrom.x, y1: arrowFrom.y, x2: arrowTo.x, y2: arrowTo.y}], {x1: "x1", y1: "y1", x2: "x2", y2: "y2", stroke: "#111", strokeWidth: 1.4}),
    Plot.dot([arrowTo], {x: "x", y: "y", symbol: arrowHead, r: 23, fill: "#111", stroke: null, rotate: arrowAngle}),
    Plot.text([notePos], {x: "x", y: "y", text: () => noteText, textAnchor: "end", lineAnchor: "top", lineHeight: 1.32, fontSize: 21, fill: ink})
  ]
});

document.getElementById("chart").appendChild(chart);
</script>
</body>
</html>
